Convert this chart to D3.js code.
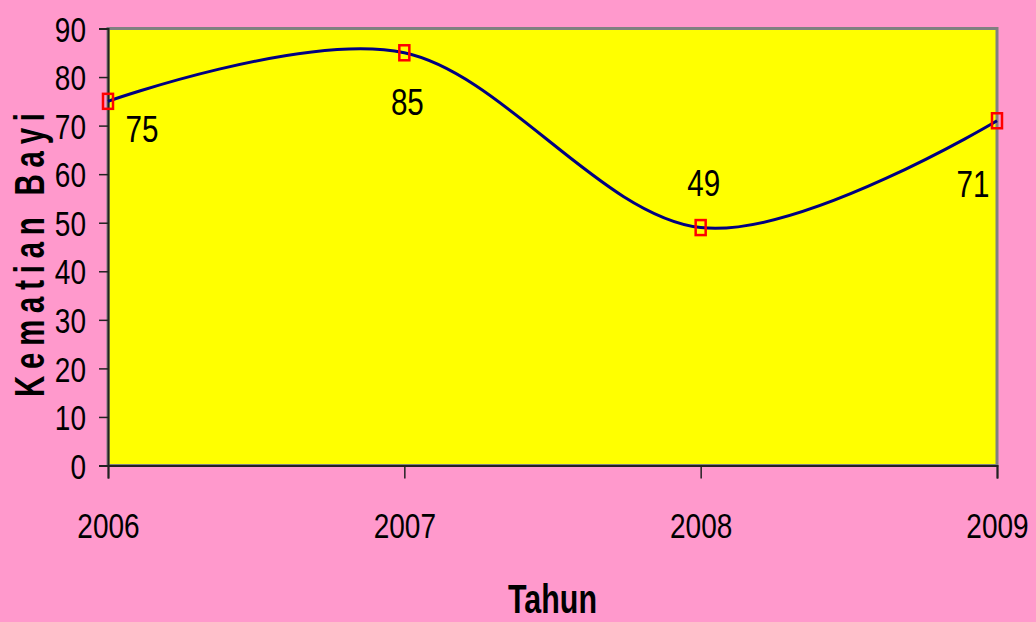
<!DOCTYPE html>
<html>
<head>
<meta charset="utf-8">
<script src="https://cdn.jsdelivr.net/npm/d3@7/dist/d3.min.js"></script>
<style>
  html, body { margin: 0; padding: 0; background: #ff99cc; }
  svg { display: block; }
  text { font-family: "Liberation Sans", Arial, sans-serif; fill: #000; }
</style>
</head>
<body>
<div id="chart"></div>
<script>
// data
const years = ["2006", "2007", "2008", "2009"];
const deaths = [75, 85, 49, 71];
const yTicks = [0, 10, 20, 30, 40, 50, 60, 70, 80, 90];
const xTitle = "Tahun";
const yTitle = "Kematian Bayi";

// label placement (dx, dy from point), hand-placed like the original
const labelOffsets = [[34, 27], [3, 49], [3, -45], [-24, 63]];

const W = 1036, H = 622;
const plot = { left: 108, right: 997, top: 28.5, bottom: 465.5 };
const SX = 0.8; // the original text looks squeezed (narrow font)

const svg = d3.select("#chart").append("svg")
    .attr("width", W)
    .attr("height", H);

svg.append("rect")
    .attr("width", W).attr("height", H)
    .attr("fill", "#ff99cc");

const x = d3.scalePoint()
    .domain(years)
    .range([plot.left, plot.right]);

const y = d3.scaleLinear()
    .domain([0, 90])
    .range([plot.bottom, plot.top]);

// place a text squeezed horizontally, at (px, py)
const squeeze = (sel, px, py, sx = SX) => sel
    .attr("transform", `translate(${px},${py}) scale(${sx},1)`)
    .attr("x", 0)
    .attr("y", 0);

// plot area
svg.append("rect")
    .attr("x", plot.left)
    .attr("y", plot.top)
    .attr("width", plot.right - plot.left)
    .attr("height", plot.bottom - plot.top)
    .attr("fill", "#ffff00")
    .attr("stroke", "#808080")
    .attr("stroke-width", 3);

// y axis
const yAxis = svg.append("g")
    .attr("transform", `translate(${plot.left},0)`)
    .call(d3.axisLeft(y).tickValues(yTicks).tickSize(9).tickFormat(d3.format("d")));
yAxis.select(".domain").attr("stroke", "#222").attr("stroke-width", 2);
yAxis.selectAll(".tick line").attr("stroke", "#222").attr("stroke-width", 1.5);
yAxis.selectAll(".tick text")
    .style("font-size", "35px")
    .attr("dy", "0.36em")
    .call(s => squeeze(s, -22, 0));

// x axis
const xAxis = svg.append("g")
    .attr("transform", `translate(0,${plot.bottom})`)
    .call(d3.axisBottom(x).tickSize(13));
xAxis.select(".domain").attr("stroke", "#222").attr("stroke-width", 2);
xAxis.selectAll(".tick line").attr("stroke", "#222").attr("stroke-width", 1.5);
xAxis.selectAll(".tick text")
    .style("font-size", "35px")
    .attr("dy", 0)
    .call(s => squeeze(s, 0, 72));

// line
const line = d3.line()
    .x((d, i) => x(years[i]))
    .y(d => y(d))
    .curve(d3.curveCatmullRom.alpha(0));

svg.append("path")
    .datum(deaths)
    .attr("d", line)
    .attr("fill", "none")
    .attr("stroke", "#000080")
    .attr("stroke-width", 3);

// markers
svg.selectAll(".marker")
    .data(deaths)
    .join("rect")
    .attr("class", "marker")
    .attr("x", (d, i) => x(years[i]) - 5)
    .attr("y", d => y(d) - 7.5)
    .attr("width", 10)
    .attr("height", 15)
    .attr("fill", "none")
    .attr("stroke", "#ff0000")
    .attr("stroke-width", 2.5);

// data labels
svg.selectAll(".label")
    .data(deaths)
    .join("text")
    .attr("class", "label")
    .attr("text-anchor", "middle")
    .attr("dy", "0.36em")
    .style("font-size", "37px")
    .text(d => d)
    .each(function (d, i) {
        squeeze(d3.select(this),
            x(years[i]) + labelOffsets[i][0],
            y(d) + labelOffsets[i][1]);
    });

// axis titles
svg.append("text")
    .attr("text-anchor", "middle")
    .style("font-size", "40px")
    .style("font-weight", "bold")
    .text(xTitle)
    .call(s => squeeze(s, (plot.left + plot.right) / 2, 613, 0.76));

const ySx = 0.7;
svg.append("text")
    .attr("transform", `translate(44,255) rotate(-90) scale(${ySx},1)`)
    .attr("text-anchor", "middle")
    .attr("textLength", 284 / ySx)
    .attr("lengthAdjust", "spacing")
    .style("font-size", "42px")
    .style("font-weight", "bold")
    .text(yTitle);
</script>
</body>
</html>
